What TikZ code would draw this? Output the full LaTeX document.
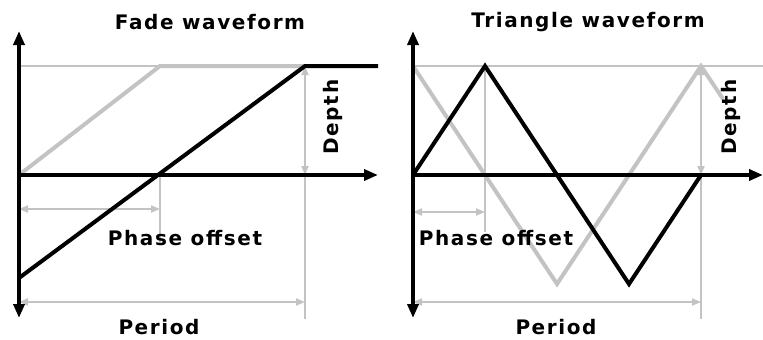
\documentclass[tikz,border=0pt]{standalone}
\usepackage{fontspec}
\setmainfont{DejaVu Sans}
\newfontfamily\lblfont{DejaVu Sans}[LetterSpace=8]
\usetikzlibrary{arrows.meta}
\definecolor{lgray}{RGB}{195,195,195}
\tikzset{
  axis/.style={line width=4pt,-{Triangle[length=14pt,width=11pt]}},
  wave/.style={line width=4pt,line join=miter},
  gwave/.style={wave,draw=lgray},
  guide/.style={line width=1.4pt,draw=lgray},
  dim/.style={line width=1.8pt,draw=lgray,{Triangle[length=9pt,width=7pt]}-{Triangle[length=9pt,width=7pt]}},
  lbl/.style={font=\lblfont\bfseries\fontsize{20}{20}\selectfont,inner sep=0pt},
}
\begin{document}
\begin{tikzpicture}[x=1pt,y=-1pt]
\useasboundingbox (0,0) rectangle (763,340);
% ---------- Fade panel ----------
\coordinate (fo) at (19,175);
\coordinate (ftop) at (19,31);
\coordinate (fbot) at (19,318);
\coordinate (fright) at (378,175);
\coordinate (fl) at (19,66);
\coordinate (fg1) at (160,66);
\coordinate (fpk) at (305,66);
\coordinate (fend) at (378,66);
\coordinate (fstart) at (19,278);
\coordinate (fx) at (160,175);
\coordinate (fxb) at (160,245);
\coordinate (fpb) at (305,319);
\coordinate (fax) at (305,175);
\coordinate (fph1) at (19,209);
\coordinate (fph2) at (160,209);
\coordinate (fpe1) at (19,302);
\coordinate (fpe2) at (305,302);
\draw[guide] (fl) -- (fg1);
\draw[guide] (fx) -- (fxb);
\draw[guide] (fpk) -- (fpb);
\draw[dim] (fph1) -- (fph2);
\draw[dim] (fpe1) -- (fpe2);
\draw[dim] (fpk) -- (fax);
\draw[gwave] (fo) -- (fg1) -- (fpk);
\draw[wave] (fstart) -- (fpk) -- (fend);
\draw[axis] (fo) -- (ftop);
\draw[axis] (fo) -- (fbot);
\draw[axis] (fo) -- (fright);
\node[lbl] (ftitle) at (210,22) {Fade waveform};
\node[lbl,rotate=90] (fdepth) at (333,117) {Depth};
\node[lbl] (fphase) at (185,238) {Phase offset};
\node[lbl] (fperiod) at (159,327) {Period};
% ---------- Triangle panel ----------
\coordinate (to) at (413,175);
\coordinate (ttop) at (413,31);
\coordinate (tbot) at (413,318);
\coordinate (tright) at (763,175);
\coordinate (tl) at (413,66);
\coordinate (tlr) at (763,66);
\coordinate (tp1) at (485,66);
\coordinate (ttr) at (629,284);
\coordinate (tend) at (701,175);
\coordinate (gt) at (557,284);
\coordinate (gp) at (701,66);
\coordinate (gend) at (723,99);
\coordinate (tvb) at (485,232);
\coordinate (tpb) at (701,319);
\coordinate (tph1) at (413,212);
\coordinate (tph2) at (485,212);
\coordinate (tpe1) at (413,302);
\coordinate (tpe2) at (701,302);
\draw[guide] (tl) -- (tlr);
\draw[guide] (tp1) -- (tvb);
\draw[guide] (gp) -- (tpb);
\draw[dim] (tph1) -- (tph2);
\draw[dim] (tpe1) -- (tpe2);
\draw[dim] (gp) -- (tend);
\draw[gwave] (tl) -- (gt) -- (gp) -- (gend);
\draw[wave] (to) -- (tp1) -- (ttr) -- (tend);
\draw[axis] (to) -- (ttop);
\draw[axis] (to) -- (tbot);
\draw[axis] (to) -- (tright);
\node[lbl] (ttitle) at (588,22) {Triangle waveform};
\node[lbl,rotate=90] (tdepth) at (731,117) {Depth};
\node[lbl] (tphase) at (496,238) {Phase offset};
\node[lbl] (tperiod) at (556,327) {Period};
\end{tikzpicture}
\end{document}
